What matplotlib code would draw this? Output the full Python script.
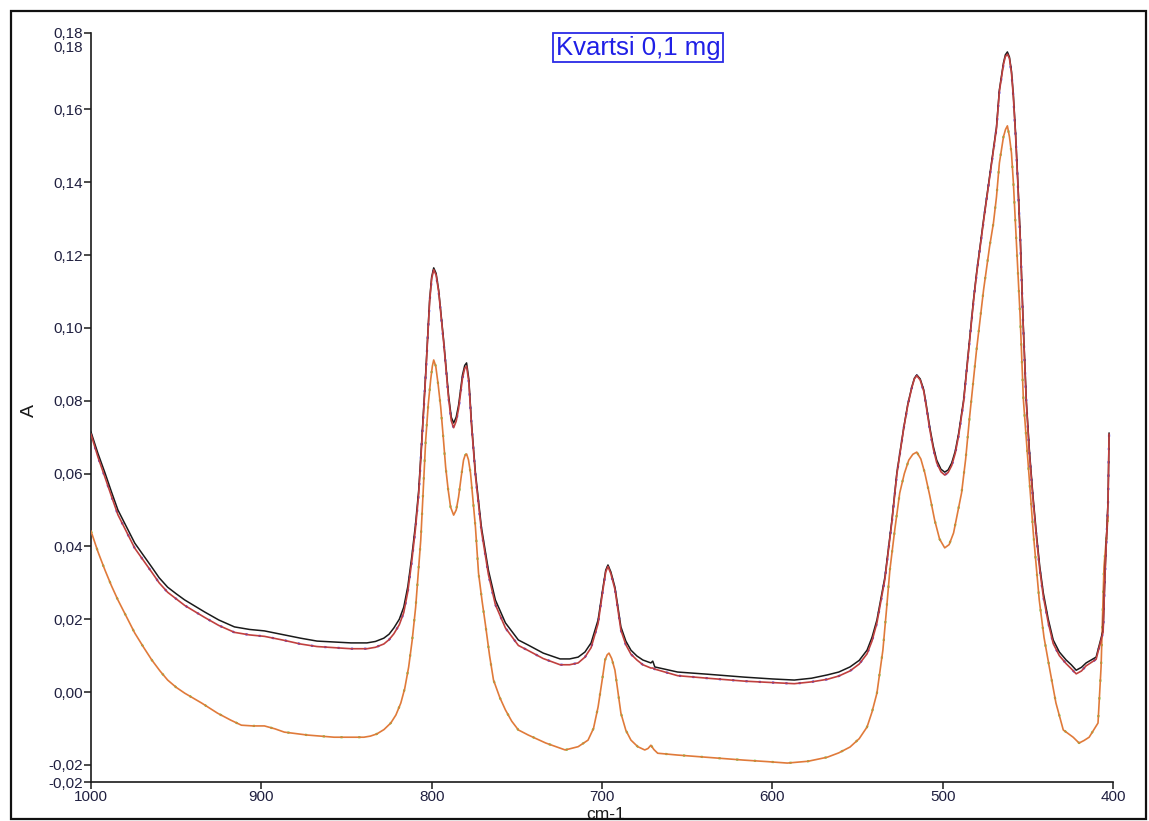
"""
IR absorbance spectrum, quartz 0.1 mg (Kvartsi 0,1 mg), 1000-400 cm-1.
"""
import matplotlib
matplotlib.use("Agg")
import matplotlib.pyplot as plt
from matplotlib.patches import Rectangle

plt.rcParams["font.family"] = ["Liberation Sans", "DejaVu Sans"]

# wavenumber grid shared by the two upper spectra (cm-1)
WN_TOP = [1000, 995.9, 991.8, 988.0, 984.2, 979.0, 974.3, 969.0, 964.3, 960.0,
          955.0, 950.0, 945.0, 939.0, 933.3, 925.0, 915.8, 907.0, 898.2, 886.5,
          877.0, 867.3, 847.4, 838.0, 833.0, 828.1, 825.0, 822.2, 819.0, 816.4,
          814.0, 811.7, 809.5, 807.6, 805.8, 803.5, 801.2, 800.0, 798.8, 797.4,
          795.9, 793.0, 790.1, 788.5, 787.1, 785.6, 784.2, 781.9, 780.6, 779.5,
          778.2, 776.6, 774.3, 770.8, 766.7, 762.6, 756.7, 749.1, 743.3, 734.5,
          724.6, 719.0, 714.0, 710.0, 706.4, 702.3, 699.4, 697.8, 696.5, 694.8,
          692.4, 688.9, 686.0, 683.0, 679.5, 676.0, 671.3, 670.2, 669.0, 655.6,
          638.0, 616.4, 600.0, 587.1, 577.0, 567.8, 561.0, 554.4, 549.0, 544.4,
          541.5, 538.6, 533.9, 529.8, 526.9, 522.8, 520.5, 518.1, 516.6, 515.2,
          513.2, 511.1, 509.5, 507.6, 505.5, 503.5, 501.0, 498.8, 496.8, 494.7,
          492.6, 490.6, 487.7, 484.8, 481.9, 480.1, 476.0, 472.5, 468.4, 466.7,
          464.3, 463.2, 462.0, 460.8, 459.6, 458.5, 457.2, 455.8, 454.4, 452.8,
          450.9, 449.1, 447.0, 445.0, 443.0, 440.9, 438.0, 435.1, 431.5, 427.5,
          424.5, 421.6, 418.5, 415.8, 409.9, 405.8, 404.7, 402.9, 402.3]

A_BLACK = [0.0714, 0.0655, 0.0602, 0.0550, 0.0500, 0.0452, 0.0409, 0.0374, 0.0343, 0.0314,
           0.0288, 0.0270, 0.0253, 0.0236, 0.0220, 0.0198, 0.0179, 0.0172, 0.0168, 0.0157,
           0.0148, 0.0140, 0.0135, 0.0135, 0.0139, 0.0148, 0.0159, 0.0176, 0.0200, 0.0233,
           0.0290, 0.0371, 0.0460, 0.0555, 0.0692, 0.0876, 0.1077, 0.1140, 0.1165, 0.1150,
           0.1104, 0.0967, 0.0816, 0.0755, 0.0739, 0.0755, 0.0788, 0.0871, 0.0897, 0.0904,
           0.0860, 0.0739, 0.0602, 0.0453, 0.0335, 0.0253, 0.0190, 0.0143, 0.0129, 0.0107,
           0.0091, 0.0091, 0.0096, 0.0110, 0.0135, 0.0198, 0.0288, 0.0335, 0.0349, 0.0330,
           0.0288, 0.0179, 0.0140, 0.0115, 0.0099, 0.0088, 0.0080, 0.0085, 0.0069, 0.0055,
           0.0049, 0.0041, 0.0036, 0.0033, 0.0038, 0.0047, 0.0055, 0.0069, 0.0087, 0.0115,
           0.0150, 0.0198, 0.0316, 0.0472, 0.0602, 0.0728, 0.0790, 0.0838, 0.0862, 0.0871,
           0.0860, 0.0830, 0.0785, 0.0728, 0.0675, 0.0637, 0.0612, 0.0604, 0.0610, 0.0629,
           0.0662, 0.0711, 0.0802, 0.0939, 0.1077, 0.1151, 0.1297, 0.1415, 0.1552, 0.1654,
           0.1728, 0.1750, 0.1758, 0.1744, 0.1705, 0.1640, 0.1535, 0.1395, 0.1245, 0.1022,
           0.0802, 0.0665, 0.0540, 0.0437, 0.0345, 0.0272, 0.0200, 0.0143, 0.0110, 0.0088,
           0.0075, 0.0060, 0.0068, 0.0080, 0.0096, 0.0170, 0.0327, 0.0527, 0.0711]

A_RED = [0.0708, 0.0645, 0.0590, 0.0538, 0.0487, 0.0439, 0.0395, 0.0360, 0.0329, 0.0300,
         0.0274, 0.0256, 0.0238, 0.0221, 0.0205, 0.0183, 0.0164, 0.0157, 0.0153, 0.0142,
         0.0132, 0.0125, 0.0119, 0.0119, 0.0123, 0.0132, 0.0144, 0.0160, 0.0185, 0.0218,
         0.0276, 0.0358, 0.0449, 0.0545, 0.0685, 0.0870, 0.1072, 0.1135, 0.1160, 0.1145,
         0.1100, 0.0962, 0.0808, 0.0745, 0.0726, 0.0744, 0.0778, 0.0862, 0.0889, 0.0895,
         0.0852, 0.0732, 0.0594, 0.0443, 0.0323, 0.0240, 0.0176, 0.0128, 0.0114, 0.0092,
         0.0075, 0.0075, 0.0080, 0.0096, 0.0122, 0.0188, 0.0282, 0.0330, 0.0345, 0.0325,
         0.0282, 0.0170, 0.0130, 0.0104, 0.0088, 0.0075, 0.0066, 0.0066, 0.0063, 0.0045,
         0.0038, 0.0030, 0.0026, 0.0023, 0.0028, 0.0035, 0.0044, 0.0058, 0.0077, 0.0105,
         0.0140, 0.0190, 0.0310, 0.0468, 0.0598, 0.0726, 0.0787, 0.0836, 0.0860, 0.0869,
         0.0857, 0.0826, 0.0780, 0.0722, 0.0668, 0.0630, 0.0605, 0.0596, 0.0603, 0.0622,
         0.0656, 0.0705, 0.0797, 0.0935, 0.1073, 0.1147, 0.1293, 0.1411, 0.1548, 0.1650,
         0.1724, 0.1745, 0.1752, 0.1740, 0.1700, 0.1634, 0.1529, 0.1389, 0.1238, 0.1015,
         0.0795, 0.0657, 0.0531, 0.0428, 0.0336, 0.0262, 0.0190, 0.0133, 0.0100, 0.0078,
         0.0064, 0.0050, 0.0058, 0.0072, 0.0090, 0.0165, 0.0322, 0.0522, 0.0708]

# lower spectrum
WN_LOW = [1000, 995.9, 991.8, 988.0, 984.2, 979.0, 974.3, 969.0, 964.3, 959.5,
          955.0, 950.0, 945.0, 935.1, 925.7, 918.0, 911.7, 905.0, 898.2, 892.0,
          886.5, 873.1, 857.3, 839.8, 836.0, 832.2, 828.0, 824.0, 821.0, 818.1,
          815.8, 813.5, 811.5, 809.4, 808.0, 806.4, 805.0, 803.5, 802.0, 800.6,
          799.6, 798.8, 797.6, 796.2, 794.7, 793.2, 791.8, 790.3, 788.9, 787.1,
          785.6, 784.2, 782.7, 781.3, 780.4, 779.5, 778.4, 777.2, 775.8, 774.3,
          772.5, 770.4, 768.4, 766.0, 763.7, 760.0, 756.7, 753.0, 749.1, 743.3,
          733.0, 721.6, 714.0, 708.2, 705.0, 702.3, 700.0, 698.2, 697.0, 695.9,
          694.3, 692.4, 690.6, 688.9, 686.0, 683.0, 679.0, 674.9, 673.0, 671.3,
          669.5, 667.3, 655.6, 636.0, 616.4, 603.0, 591.2, 579.0, 567.8, 561.0,
          554.4, 549.0, 544.4, 541.5, 538.6, 535.1, 533.0, 531.0, 528.0, 525.2,
          522.5, 519.9, 517.5, 515.2, 512.8, 510.5, 507.6, 504.7, 501.8, 498.8,
          496.2, 493.6, 488.9, 486.5, 484.2, 480.1, 476.0, 472.5, 470.2, 468.4,
          466.7, 464.3, 463.1, 462.0, 460.8, 459.6, 458.5, 457.3, 456.0, 454.6,
          452.6, 449.7, 446.8, 443.3, 440.5, 437.4, 433.5, 429.2, 423.4, 419.9,
          417.0, 414.0, 408.8, 407.0, 405.3, 402.9]

A_ORANGE = [0.0442, 0.0385, 0.0335, 0.0292, 0.0253, 0.0205, 0.0162, 0.0122, 0.0088, 0.0058,
            0.0033, 0.0013, -0.0003, -0.0030, -0.0058, -0.0077, -0.0091, -0.0093, -0.0093, -0.0101,
            -0.0110, -0.0118, -0.0124, -0.0124, -0.0121, -0.0115, -0.0103, -0.0085, -0.0063, -0.0030,
            0.0010, 0.0069, 0.0140, 0.0233, 0.0318, 0.0418, 0.0550, 0.0692, 0.0790, 0.0857,
            0.0895, 0.0912, 0.0895, 0.0845, 0.0783, 0.0700, 0.0618, 0.0555, 0.0508, 0.0486,
            0.0500, 0.0536, 0.0590, 0.0637, 0.0650, 0.0654, 0.0638, 0.0602, 0.0530, 0.0453,
            0.0327, 0.0250, 0.0184, 0.0100, 0.0033, -0.0015, -0.0049, -0.0080, -0.0104, -0.0118,
            -0.0140, -0.0159, -0.0150, -0.0132, -0.0100, -0.0041, 0.0030, 0.0088, 0.0102, 0.0107,
            0.0092, 0.0060, 0.0000, -0.0058, -0.0105, -0.0132, -0.0150, -0.0159, -0.0155, -0.0146,
            -0.0158, -0.0168, -0.0173, -0.0180, -0.0187, -0.0191, -0.0195, -0.0190, -0.0179, -0.0167,
            -0.0151, -0.0128, -0.0096, -0.0055, -0.0003, 0.0115, 0.0225, 0.0335, 0.0450, 0.0547,
            0.0600, 0.0637, 0.0653, 0.0659, 0.0640, 0.0602, 0.0540, 0.0472, 0.0420, 0.0396,
            0.0405, 0.0437, 0.0547, 0.0640, 0.0755, 0.0940, 0.1104, 0.1222, 0.1288, 0.1360,
            0.1453, 0.1525, 0.1545, 0.1555, 0.1525, 0.1480, 0.1400, 0.1290, 0.1170, 0.1040,
            0.0802, 0.0618, 0.0437, 0.0253, 0.0150, 0.0069, -0.0030, -0.0104, -0.0124, -0.0140,
            -0.0133, -0.0124, -0.0085, 0.0069, 0.0343, 0.0481]

Y_MIN, Y_MAX = -0.0247, 0.181
Y_TICKS = [Y_MIN, -0.02, 0.00, 0.02, 0.04, 0.06, 0.08, 0.10, 0.12, 0.14, 0.16, Y_MAX]
X_TICKS = [1000, 900, 800, 700, 600, 500, 400]
TITLE = "Kvartsi 0,1 mg"


def comma(v):
    return f"{v:.2f}".replace(".", ",")


def main():
    fig = plt.figure(figsize=(11.49, 8.21), dpi=100)
    ax = fig.add_axes([91 / 1149, 39 / 821, 1022 / 1149, 749 / 821])

    # faint companions drawn under the main lines
    ax.plot(WN_TOP, A_RED, color="#3a3aff", lw=1.6, ls=(0, (1, 5)), zorder=2)
    ax.plot(WN_LOW, A_ORANGE, color="#55dd44", lw=1.6, ls=(0, (1, 7)), zorder=2)
    ax.plot(WN_LOW, A_ORANGE, color="#e07a3a", lw=1.2, zorder=3)
    ax.plot(WN_TOP, A_BLACK, color="#1a1a1a", lw=1.1, zorder=3)
    ax.plot(WN_TOP, A_RED, color="#c0403f", lw=1.2, zorder=4)

    ax.set_xlim(1000, 400)
    ax.set_ylim(Y_MIN, Y_MAX)
    ax.set_xticks(X_TICKS)
    ax.set_xticklabels([str(x) for x in X_TICKS])
    ax.set_yticks(Y_TICKS)
    ax.set_yticklabels([comma(v) for v in Y_TICKS])
    ax.tick_params(axis="both", direction="out", length=5, width=1.1,
                   labelsize=11, colors="#1a1a1a", labelcolor="#202040", pad=1)
    ax.spines["top"].set_visible(False)
    ax.spines["right"].set_visible(False)
    for s in ("left", "bottom"):
        ax.spines[s].set_linewidth(1.2)
        ax.spines[s].set_color("#1a1a1a")

    # second "0,18" label the original software prints just below the top one
    ax.text(-0.0075, 0.1770, "0,18", transform=ax.get_yaxis_transform(),
            ha="right", va="center", fontsize=11, color="#202040")

    ax.text(0.5352, 0.9805, TITLE, transform=ax.transAxes, ha="center", va="center",
            fontsize=18.5, color="#1f1fe6",
            bbox=dict(boxstyle="square,pad=0.1", fc="white", ec="#2a2ae6", lw=1.3))

    fig.text(29 / 1149, 1 - 410 / 821, "A", rotation=90, ha="center", va="center",
             fontsize=14, color="#1a1a1a")
    fig.text(606 / 1149, 1 - 814 / 821, "cm-1", ha="center", va="center",
             fontsize=12.5, color="#1a1a1a")

    fig.patches.append(Rectangle((11 / 1149, 2 / 821), 1135 / 1149, 808 / 821,
                                 transform=fig.transFigure, fill=False,
                                 ec="#111111", lw=1.6, zorder=10))

    fig.savefig("out.png", dpi=100, facecolor="white")
    plt.close(fig)


if __name__ == "__main__":
    main()
